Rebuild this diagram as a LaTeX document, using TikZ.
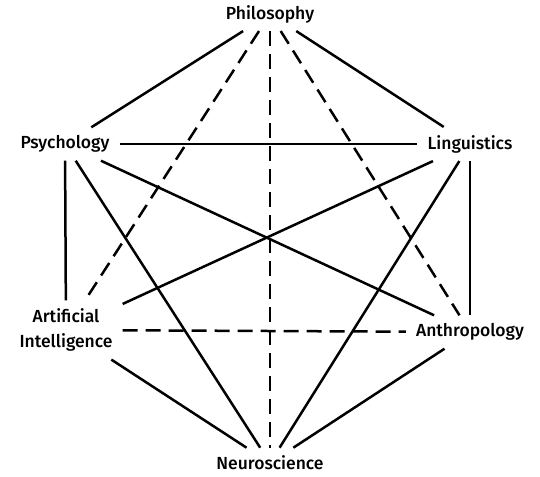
\documentclass[tikz,border=0pt]{standalone}
\usepackage{fontspec}
\setmainfont{Fira Sans Medium}
\usepackage{tikz}

\begin{document}
\begin{tikzpicture}[x=1pt,y=-1pt,
    field/.style={font=\fontsize{17.5}{20}\selectfont, inner xsep=10pt, inner ysep=8pt, align=center},
    link/.style={line width=2.5pt},
    weak/.style={line width=2.5pt, dash pattern=on 15pt off 8pt}]
  \useasboundingbox (0,0) rectangle (540,476);
  % six disciplines round a hexagon
  \node[field] (phil)  at (270,14)  {Philosophy};
  \node[field] (psych) at (65,144)  {Psychology};
  \node[field] (ling)  at (470,144) {Linguistics};
  \node[field] (ai)    at (66,330)  {Artificial\\[5pt]Intelligence};
  \node[field] (anth)  at (470,332) {Anthropology};
  \node[field] (neuro) at (270,463) {Neuroscience};
  % strong links
  \draw[link] (phil) -- (psych);
  \draw[link] (phil) -- (ling);
  \draw[link] (psych) -- (ling);
  \draw[link] (psych) -- (ai);
  \draw[link] (psych) -- (neuro);
  \draw[link] (psych) -- (anth);
  \draw[link] (ling) -- (ai);
  \draw[link] (ling) -- (anth);
  \draw[link] (ling) -- (neuro);
  \draw[link] (ai) -- (neuro);
  \draw[link] (anth) -- (neuro);
  % weak links
  \draw[weak] (phil) -- (ai);
  \draw[weak] (phil) -- (neuro);
  \draw[weak] (phil) -- (anth);
  \draw[weak] (ai) -- (anth);
\end{tikzpicture}
\end{document}
